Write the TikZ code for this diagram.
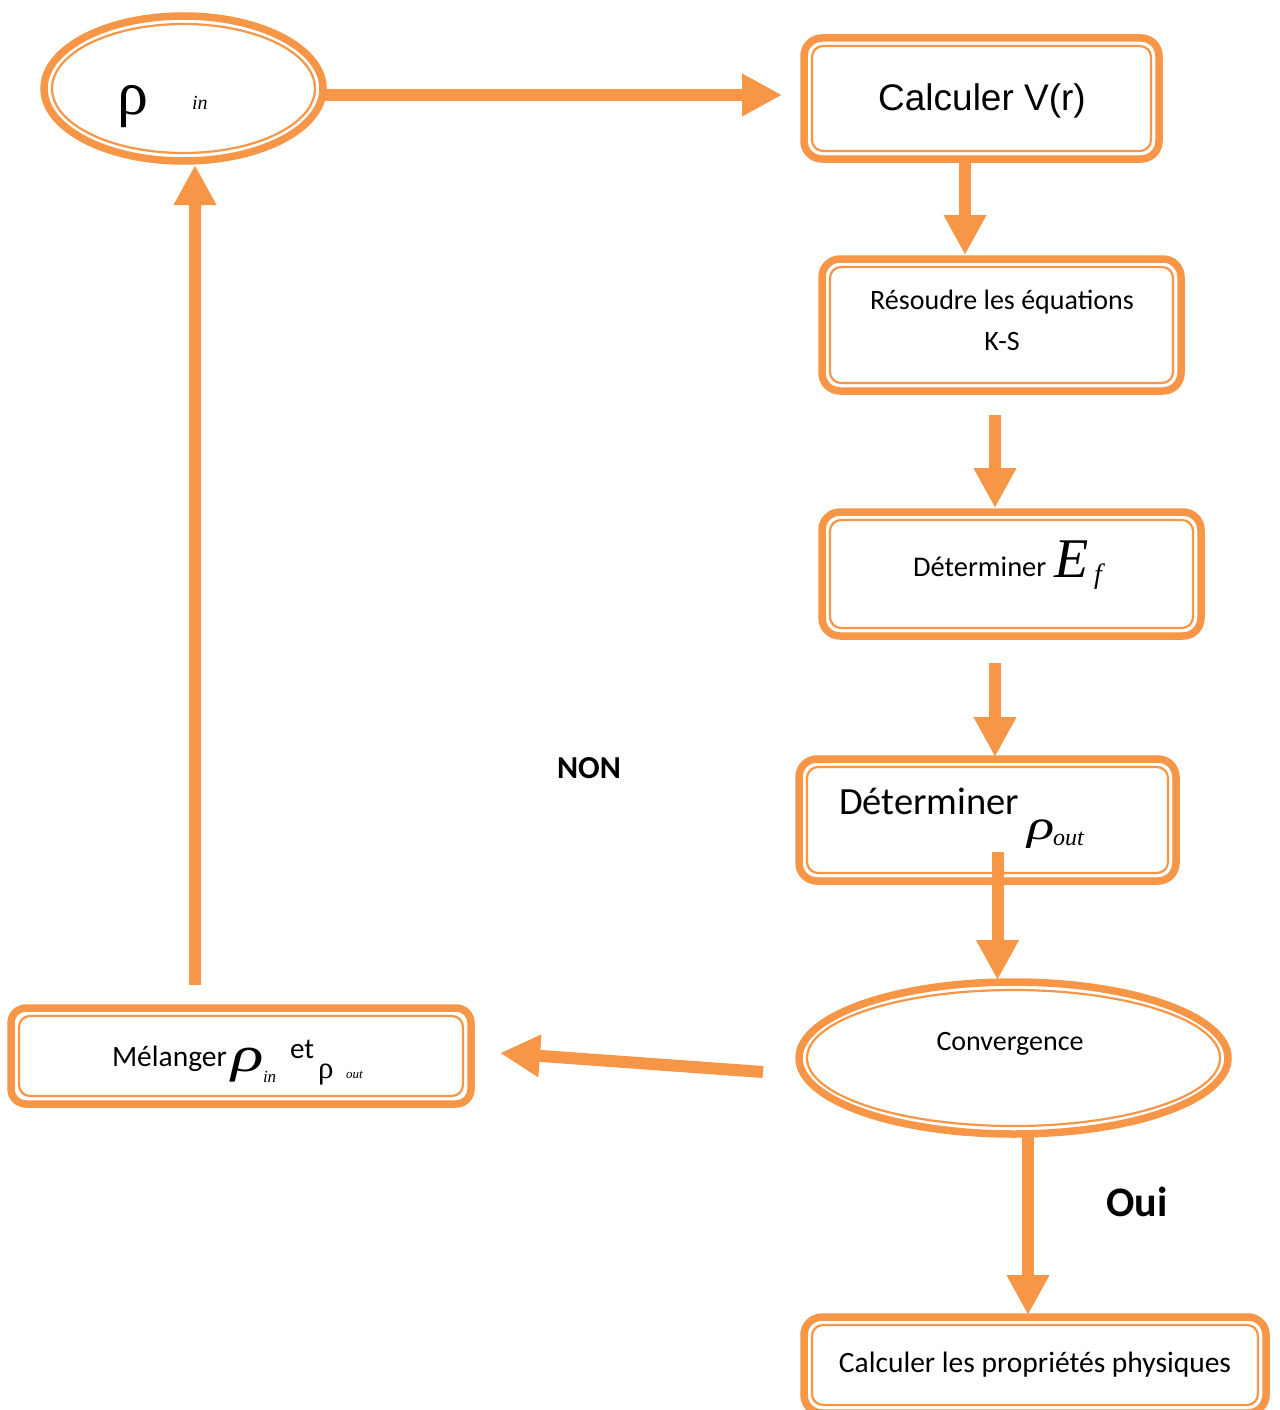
\documentclass[tikz,border=0pt]{standalone}
\usepackage{fontspec}
\usepackage{graphicx}
\setmainfont{Carlito}
\newfontfamily\arialf{Liberation Sans}
\newfontfamily\tnr{Liberation Serif}
\usetikzlibrary{arrows.meta,shapes.geometric,calc}
\definecolor{orb}{HTML}{F79646}
\tikzset{
  outerbox/.style={draw=orb, line width=7.5pt, rounded corners=18pt, inner sep=0pt, outer sep=0pt, fill=white},
  outerell/.style={draw=orb, line width=7.5pt, ellipse, inner sep=0pt, outer sep=0pt, fill=white},
  innerline/.style={draw=orb, line width=2.2pt},
  arr/.style={draw=orb, line width=12pt, -{Triangle[length=40pt,width=40pt]}},
  txt/.style={anchor=base west, inner sep=0pt, outer sep=0pt},
  ctxt/.style={anchor=base, inner sep=0pt, outer sep=0pt},
}
\newcommand{\innerrect}[1]{\draw[innerline, rounded corners=11pt] ([shift={(8,8)}]#1.north west) rectangle ([shift={(-8,-8)}]#1.south east);}
\begin{document}
\begin{tikzpicture}[x=1pt, y=-1pt]
\useasboundingbox[fill=white] (0,0) rectangle (1279,1410);

% shapes
\node[outerell, minimum width=279pt, minimum height=145pt] (e1) at (183.5,88.5) {};
\draw[innerline] (e1.center) ellipse [x radius=131.5, y radius=64.5];

\node[outerbox, minimum width=355pt, minimum height=121pt] (b1) at (981.5,98.5) {};
\innerrect{b1}
\node[outerbox, minimum width=359pt, minimum height=132pt] (b2) at (1001.5,325) {};
\innerrect{b2}
\node[outerbox, minimum width=379pt, minimum height=124pt] (b3) at (1011.5,574) {};
\innerrect{b3}
\node[outerbox, minimum width=377pt, minimum height=122pt] (b4) at (987.5,820) {};
\innerrect{b4}
\node[outerell, minimum width=429pt, minimum height=152pt] (cv) at (1013.5,1058) {};
\draw[innerline] (cv.center) ellipse [x radius=206.5, y radius=68];
\node[outerbox, minimum width=460pt, minimum height=96pt, rounded corners=15pt] (mel) at (241,1056) {};
\innerrect{mel}
\node[outerbox, minimum width=462pt, minimum height=96pt] (bot) at (1035,1365) {};
\innerrect{bot}

% texts
\node[txt, font=\tnr\fontsize{62}{66}\selectfont] (rho1) at (117,114) {ρ};
\node[txt, font=\tnr\itshape\fontsize{20}{22}\selectfont] (in1) at (192,110) {in};
\node[ctxt, font=\arialf\fontsize{37}{42}\selectfont] (t1) at (982,111) {Calculer V(r)};
\node[ctxt, font=\fontsize{28}{32}\selectfont] (t2a) at (1002,309) {Résoudre les équations};
\node[ctxt, font=\fontsize{28}{32}\selectfont] (t2b) at (1002,350) {K-S};
\node[txt, font=\fontsize{28.5}{32}\selectfont] (t3) at (913,576) {Déterminer};
\node[txt, font=\tnr\itshape\fontsize{56}{60}\selectfont] (t3e) at (1054,577) {E};
\node[txt, font=\tnr\itshape\fontsize{28}{30}\selectfont] (t3f) at (1094,583) {f};
\node[txt, font=\fontsize{38.5}{42}\selectfont] (t4) at (839,814) {Déterminer};
\node[txt, font=\tnr\itshape\fontsize{42}{46}\selectfont] (t4r) at (1027,839) {\scalebox{1.35}[1]{ρ}};
\node[txt, font=\tnr\itshape\fontsize{24}{28}\selectfont] (t4o) at (1053,845) {out};
\node[ctxt, font=\fontsize{28}{32}\selectfont] (t5) at (1010,1050) {Convergence};
\node[txt, font=\fontsize{29.5}{32}\selectfont] (t6) at (112,1066) {Mélanger};
\node[txt, font=\tnr\itshape\fontsize{50}{54}\selectfont] (t6r) at (231,1071) {\scalebox{1.35}[1]{ρ}};
\node[txt, font=\tnr\itshape\fontsize{17}{19}\selectfont] (t6i) at (263,1082) {in};
\node[txt, font=\fontsize{29}{32}\selectfont] (t6e) at (290,1058) {et};
\node[txt, font=\tnr\fontsize{31}{34}\selectfont] (t6p) at (318,1078) {ρ};
\node[txt, font=\tnr\itshape\fontsize{13}{15}\selectfont] (t6o) at (346,1078) {out};
\node[ctxt, font=\fontsize{29.5}{34}\selectfont] (t7) at (1035,1372) {Calculer les propriétés physiques};
\node[ctxt, font=\bfseries\fontsize{32}{36}\selectfont] (non) at (589,778) {NON};
\node[ctxt, font=\bfseries\fontsize{42}{46}\selectfont] (oui) at (1137,1216) {Oui};

% connectors
\draw[arr] ($(e1.east)+(2,6.5)$) -- ($(b1.west)+(-22,-3.5)$);
\draw[arr] ($(b1.south)+(-16.5,3)$) -- ($(b2.north)+(-36.5,-4)$);
\draw[arr] ($(b2.south)+(-6.5,24)$) -- ($(b3.north)+(-16.5,-4)$);
\draw[arr] ($(b3.south)+(-16.5,27)$) -- ($(b4.north)+(7.5,-2)$);
\draw[arr] ($(b4.south)+(10,-29)$) -- ($(cv.north)+(-16,-2)$);
\draw[arr] ($(cv.west)+(-36,14)$) -- ($(mel.east)+(29,-3)$);
\draw[arr] ($(mel.north)+(-46,-23)$) -- ($(e1.south)+(11.5,4)$);
\draw[arr] ($(cv.south)+(14.5,3)$) -- ($(bot.north)+(-7,-2)$);
\end{tikzpicture}
\end{document}
